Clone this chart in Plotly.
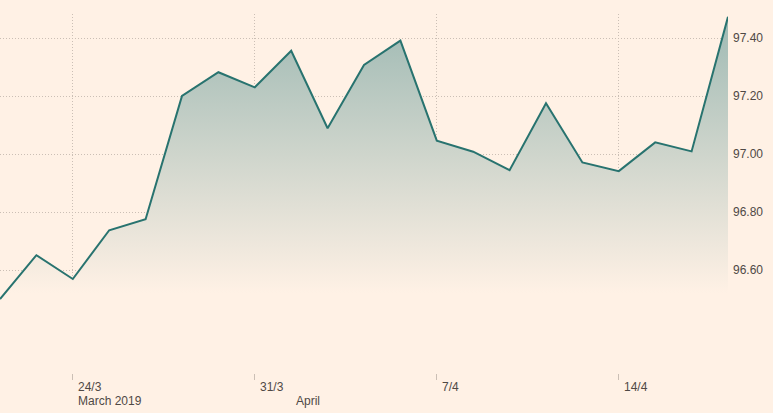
import plotly.graph_objects as go

# Data
idx = list(range(21))
values = [96.50, 96.651, 96.569, 96.737, 96.775, 97.200, 97.282, 97.230, 97.356, 97.089,
          97.307, 97.391, 97.046, 97.008, 96.944, 97.175, 96.971, 96.941, 97.040, 97.009, 97.473]

tick_idx = [2, 7, 12, 17]
tick_labels = ["24/3", "31/3", "7/4", "14/4"]
month_idx = [2, 8]
month_labels = ["March 2019", "April"]

y_ticks = [96.6, 96.8, 97.0, 97.2, 97.4]
y_labels = ["96.60", "96.80", "97.00", "97.20", "97.40"]

BG = "#fff1e5"
LINE = "#28736f"
GRID = "#cbbfb5"
TEXT = "#4f4945"
FONT = "Liberation Sans, Arial, sans-serif"

fig = go.Figure()
fig.add_trace(go.Scatter(
    x=idx, y=values, mode="lines",
    line=dict(color=LINE, width=2),
    fill="tozeroy",
    fillgradient=dict(type="vertical", start=96.52, stop=97.48,
                      colorscale=[[0, "rgba(255,241,229,1)"], [1, "rgb(158,185,179)"]]),
    hoverinfo="skip", showlegend=False,
))

fig.update_layout(
    width=773, height=413,
    margin=dict(l=0, r=45, t=14, b=40, autoexpand=False),
    paper_bgcolor=BG, plot_bgcolor=BG,
    font=dict(family=FONT, size=12, color=TEXT),
    showlegend=False,
)
fig.update_xaxes(
    range=[0, 20], tickvals=tick_idx, ticktext=["" for _ in tick_idx],
    showgrid=True, gridcolor=GRID, griddash="1px,2px", gridwidth=1,
    ticks="outside", ticklen=6, tickcolor=GRID, tickwidth=1,
    zeroline=False, showline=False, fixedrange=True, automargin=False,
)
fig.update_yaxes(
    range=[96.2448, 97.4828], side="right", tickvals=y_ticks, ticktext=y_labels,
    showgrid=True, gridcolor=GRID, griddash="1px,2px", gridwidth=1,
    ticks="", ticklabelstandoff=4, zeroline=False, showline=False,
    tickfont=dict(size=12, color=TEXT), fixedrange=True, automargin=False,
)

for i, lab in zip(tick_idx, tick_labels):
    fig.add_annotation(x=i, y=0, xref="x", yref="paper", text=lab, showarrow=False,
                       xanchor="left", yanchor="top", xshift=3, yshift=-5,
                       font=dict(family=FONT, size=12, color=TEXT))
for i, lab in zip(month_idx, month_labels):
    fig.add_annotation(x=i, y=0, xref="x", yref="paper", text=lab, showarrow=False,
                       xanchor="left", yanchor="top", xshift=3, yshift=-19,
                       font=dict(family=FONT, size=12, color=TEXT))

fig.write_html("out.html", config={"displayModeBar": False},
               post_script="document.body.style.margin='0';document.body.style.overflow='hidden';")
